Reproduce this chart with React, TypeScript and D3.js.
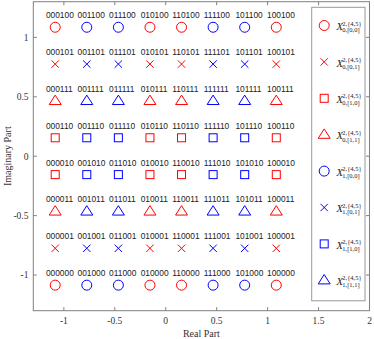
import React from "react";
import * as d3 from "d3";

const levels = [-1.085, -0.775, -0.465, -0.155, 0.155, 0.465, 0.775, 1.085];
// column prefixes (left to right) and color group (0 = red, 1 = blue)
const colPrefixes = ["000", "001", "011", "010", "110", "111", "101", "100"];
const colGroup = [0, 1, 1, 0, 0, 1, 1, 0];
// row suffixes (top to bottom) and shape
const rowSuffixes = ["100", "101", "111", "110", "010", "011", "001", "000"];
const rowLevels = [1.085, 0.775, 0.465, 0.155, -0.155, -0.465, -0.775, -1.085];
const rowShape = ["circle", "cross", "triangle", "square", "square", "triangle", "cross", "circle"];

const xTicks = [-1, -0.5, 0, 0.5, 1, 1.5, 2];
const yTicks = [-1, -0.5, 0, 0.5, 1];
const xTickLabels = ["-1", "-0.5", "0", "0.5", "1", "1.5", "2"];
const yTickLabels = ["-1", "-0.5", "0", "0.5", "1"];

const legendShapes = ["circle", "cross", "square", "triangle", "circle", "cross", "square", "triangle"];
const legendGroup = [0, 0, 0, 0, 1, 1, 1, 1];
const legendSub = ["0,[0,0]", "0,[0,1]", "0,[1,0]", "0,[1,1]", "1,[0,0]", "1,[0,1]", "1,[1,0]", "1,[1,1]"];
const legendSup = "2,{4,5}";

const colors = ["#ff0000", "#0000ff"];

function Marker({ shape, cx, cy, color }: { shape: string; cx: number; cy: number; color: string }) {
  const common = { fill: "none", stroke: color, strokeWidth: 1 };
  if (shape === "circle") return <circle cx={cx} cy={cy} r={5} {...common} />;
  if (shape === "cross")
    return (
      <path d={`M${cx - 3.7},${cy - 3.7}L${cx + 3.7},${cy + 3.7}M${cx - 3.7},${cy + 3.7}L${cx + 3.7},${cy - 3.7}`} {...common} />
    );
  if (shape === "square") return <rect x={cx - 4} y={cy - 4} width={8} height={8} {...common} />;
  return <path d={`M${cx},${cy - 5.8}L${cx + 6},${cy + 3.6}L${cx - 6},${cy + 3.6}Z`} {...common} />;
}

export default function App() {
  const W = 374, H = 339;
  const left = 33.3, right = 369.5, top = 1.7, bottom = 310.7;
  const x = d3.scaleLinear().domain([-1.3, 2]).range([left, right]);
  const y = d3.scaleLinear().domain([-1.3, 1.3]).range([bottom, top]);
  const axisColor = "#808080";
  const tickLen = 3.5;
  const serif = "'Liberation Serif', 'Times New Roman', serif";
  const sans = "'Liberation Sans', Arial, sans-serif";

  const legX = 311.7, legY = 7.3, legW = 53.3, legH = 293.5;
  const legYs = d3.range(8).map((i) => 25.5 + i * 36.4);

  return (
    <svg width={W} height={H} style={{ position: "absolute", left: 0, top: 0 }}>
      <rect x={0} y={0} width={W} height={H} fill="#fff" />
      {/* frame */}
      <rect x={left} y={top} width={right - left} height={bottom - top} fill="none" stroke={axisColor} strokeWidth={1} />
      {xTicks.map((t, i) => (
        <g key={"xt" + i}>
          <line x1={x(t)} x2={x(t)} y1={bottom} y2={bottom - tickLen} stroke={axisColor} />
          <line x1={x(t)} x2={x(t)} y1={top} y2={top + tickLen} stroke={axisColor} />
          <text x={x(t)} y={324} textAnchor="middle" fontFamily={serif} fontSize={9.5} fill="#333">
            {xTickLabels[i]}
          </text>
        </g>
      ))}
      {yTicks.map((t, i) => (
        <g key={"yt" + i}>
          <line x1={left} x2={left + tickLen} y1={y(t)} y2={y(t)} stroke={axisColor} />
          <line x1={right} x2={right - tickLen} y1={y(t)} y2={y(t)} stroke={axisColor} />
          <text x={28.5} y={y(t) + 3.3} textAnchor="end" fontFamily={serif} fontSize={9.5} fill="#333">
            {yTickLabels[i]}
          </text>
        </g>
      ))}
      <text x={(left + right) / 2} y={336.5} textAnchor="middle" fontFamily={serif} fontSize={10} fill="#333">
        Real Part
      </text>
      <text
        transform={`translate(10.5,${(top + bottom) / 2}) rotate(-90)`}
        textAnchor="middle"
        fontFamily={serif}
        fontSize={10}
        fill="#333"
      >
        Imaginary Part
      </text>
      {/* points */}
      {rowSuffixes.map((suf, r) =>
        colPrefixes.map((pre, c) => {
          const cx = x(levels[c]);
          const cy = y(rowLevels[r]);
          return (
            <g key={`p${r}-${c}`}>
              <Marker shape={rowShape[r]} cx={cx} cy={cy} color={colors[colGroup[c]]} />
              <text x={cx - 9.3} y={cy - 9} fontFamily={sans} fontSize={8.4} fill="#222">
                {pre + suf}
              </text>
            </g>
          );
        })
      )}
      {/* legend */}
      <rect x={legX} y={legY} width={legW} height={legH} fill="#fff" stroke="#999" strokeWidth={1} />
      {legYs.map((ly, i) => (
        <g key={"lg" + i}>
          <Marker shape={legendShapes[i]} cx={324.2} cy={ly} color={colors[legendGroup[i]]} />
          <text x={336.5} y={ly + 4.6} fontFamily={serif} fontStyle="italic" fontSize={10.5} fill="#222">
            X
          </text>
          <text x={342.3} y={ly} fontFamily={serif} fontSize={6.5} fill="#222">
            {legendSup}
          </text>
          <text x={342.3} y={ly + 6.8} fontFamily={serif} fontSize={6.5} fill="#222">
            {legendSub[i]}
          </text>
        </g>
      ))}
    </svg>
  );
}
